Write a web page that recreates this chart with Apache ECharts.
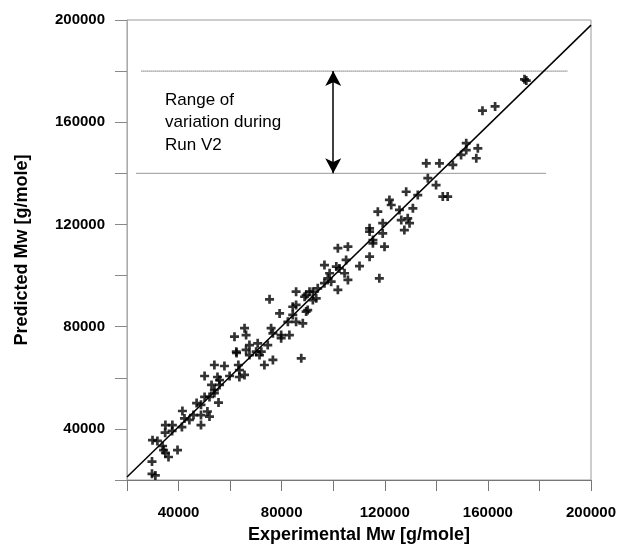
<!DOCTYPE html>
<html>
<head>
<meta charset="utf-8">
<script src="https://cdn.jsdelivr.net/npm/echarts@6/dist/echarts.min.js"></script>
<style>
html,body{margin:0;padding:0;background:#fff;}
#chart{width:618px;height:546px;}
</style>
</head>
<body>
<div id="chart"></div>
<script>
// Experimental Mw [g/mole]
const expMw = [
29700,31000,29700,29900,31800,33800,34200,34900,36100,39600,
34900,37600,37500,41300,41500,44200,45800,48700,47000,48700,
48700,51200,52000,50100,52000,53900,55500,52800,50100,55100,
53900,57800,59800,63200,63600,65600,62500,67500,55900,53900,
63600,55900,42300,34800,
61700,65600,66200,62400,67500,70700,66200,70100,72100,74600,
71400,76600,73300,75300,79200,75900,76600,79800,83000,79800,
82400,85600,88200,84300,85600,89500,85600,89500,92100,94000,
96600,93400,87600,88900,92100,90100,84300,90800,
96600,101200,98600,97900,99200,104400,105700,101800,101800,105700,
105000,102400,110200,114100,114100,114100,119200,119200,115400,115400,
119900,117900,117300,121800,122500,125700,130900,126400,128900,129600,
127600,128300,132800,
136100,141200,136700,139900,142500,144400,146400,149600,151600,151600,
156100,155500,157900,162800,174900,174200
];
// Predicted Mw [g/mole]
const predMw = [
22400,21800,27200,35600,35300,33300,31700,30600,29000,31700,
41500,41500,39200,40700,47000,43500,45400,41500,50100,49400,
45400,46800,44800,52500,52500,54000,50300,57200,60700,60300,
65000,64600,60700,65000,60300,61100,69700,68900,57200,55200,
63000,59100,44100,38500,
76100,79400,76700,70200,72800,73500,70900,70200,70200,72800,
68900,67000,65000,90700,85200,79400,77400,76700,76700,75500,
81900,81900,81300,84600,88500,85900,93700,92400,93700,95000,
97000,91100,67600,91700,90400,86500,87800,93700,
104100,103500,100900,98900,97600,100900,98300,94400,110700,111300,
106100,102800,103700,107400,118500,117200,120500,116500,113900,112600,
111300,98900,125000,129600,127600,125700,126300,121700,122400,120500,
117800,132800,131500,
143900,143900,138100,135400,130900,130900,143300,147200,151800,149100,
149800,145900,164500,166200,176300,176800
];
// fitted line end points
const fitX = [20000, 200000];
const fitY = [21200, 198000];
// range of variation during Run V2
const rangeTop = 180000;
const rangeBottom = 140000;
const rangeTopX = [25600, 191000];
const rangeBottomX = [23700, 182500];
const arrowX = 100000;
const annotation = ['Range of', 'variation during', 'Run V2'];
const xAxisTitle = 'Experimental Mw [g/mole]';
const yAxisTitle = 'Predicted Mw [g/mole]';
const axisMin = 20000, axisMax = 200000, tickStep = 20000, labelStep = 40000;

const scatterData = expMw.map((x, i) => [x, predMw[i]]);
const fitData = fitX.map((x, i) => [x, fitY[i]]);
const topLine = rangeTopX.map(x => [x, rangeTop]);
const bottomLine = rangeBottomX.map(x => [x, rangeBottom]);

const FONT = "'Liberation Sans', Arial, Helvetica, sans-serif";
const labelFmt = v => (v % labelStep === 0 ? String(v) : '');

const chart = echarts.init(document.getElementById('chart'), null, {renderer: 'canvas'});
chart.setOption({
  animation: false,
  backgroundColor: '#fff',
  grid: {left: 127, right: 27, top: 20, bottom: 66, show: true, borderColor: '#9a9a9a', borderWidth: 1,
         containLabel: false, outerBoundsMode: 'none'},
  xAxis: {
    type: 'value', min: axisMin, max: axisMax, interval: tickStep,
    name: xAxisTitle, nameLocation: 'middle', nameGap: 46,
    nameTextStyle: {fontFamily: FONT, fontWeight: 'bold', fontSize: 18, color: '#000'},
    axisLine: {show: true, lineStyle: {color: '#777', width: 1}},
    axisTick: {show: true, length: 11, lineStyle: {color: '#777'}},
    axisLabel: {formatter: labelFmt, fontFamily: FONT, fontWeight: 'bold', fontSize: 15, color: '#000', margin: 25},
    splitLine: {show: false}
  },
  yAxis: {
    type: 'value', min: axisMin, max: axisMax, interval: tickStep,
    name: yAxisTitle, nameLocation: 'middle', nameGap: 96,
    nameTextStyle: {fontFamily: FONT, fontWeight: 'bold', fontSize: 18, color: '#000'},
    axisLine: {show: true, lineStyle: {color: '#aaa', width: 1}},
    axisTick: {show: true, length: 12, lineStyle: {color: '#888'}},
    axisLabel: {formatter: labelFmt, fontFamily: FONT, fontWeight: 'bold', fontSize: 15, color: '#000', margin: 22},
    splitLine: {show: false}
  },
  graphic: [{
    type: 'text', left: 165, top: 89, silent: true,
    style: {text: annotation.join('\n'), font: '17px ' + FONT, lineHeight: 22.5, fill: '#000'}
  }],
  series: [
    {
      type: 'line', data: topLine, showSymbol: false, silent: true,
      lineStyle: {color: '#333', width: 1, type: 'dotted'}, z: 1
    },
    {
      type: 'line', data: bottomLine, showSymbol: false, silent: true,
      lineStyle: {color: '#333', width: 1, type: 'dotted'}, z: 1
    },
    {
      type: 'line', data: fitData, showSymbol: false, silent: true,
      lineStyle: {color: '#000', width: 1.5}, z: 2,
      markLine: {
        silent: true, animation: false,
        symbol: ['arrow', 'arrow'], symbolSize: [12, 15],
        lineStyle: {color: '#000', width: 1.5, type: 'solid'},
        label: {show: false},
        data: [[{coord: [arrowX, rangeTop]}, {coord: [arrowX, rangeBottom]}]]
      }
    },
    {
      type: 'scatter', data: scatterData, z: 3,
      symbol: 'path://M3.5,0h3v3.5h3.5v3h-3.5v3.5h-3v-3.5h-3.5v-3h3.5z',
      symbolSize: 9,
      itemStyle: {color: '#000'}
    }
  ]
});
</script>
</body>
</html>
